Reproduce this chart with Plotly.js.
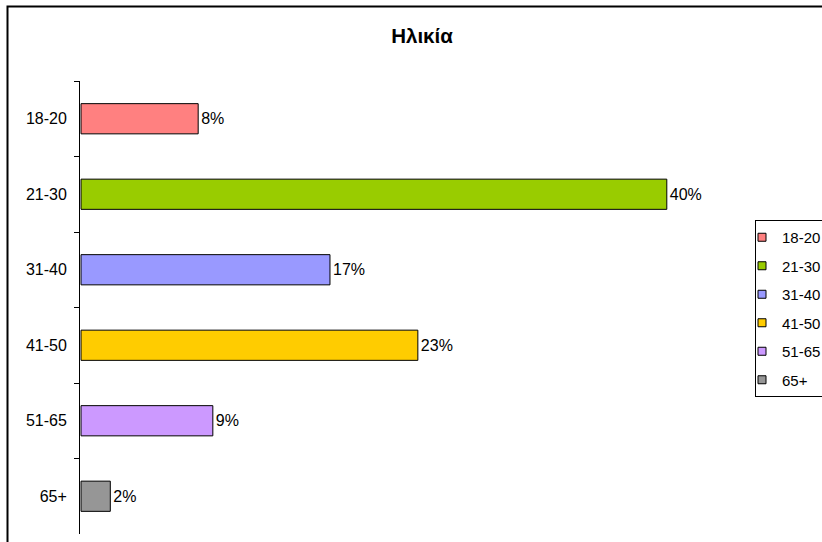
<!DOCTYPE html>
<html>
<head>
<meta charset="utf-8">
<script src="https://cdn.plot.ly/plotly-3.0.1.min.js"></script>
<style>html,body{margin:0;padding:0;background:#fff;}#chart{width:822px;height:542px;}</style>
</head>
<body>
<div id="chart"></div>
<script>
const categories = ['18-20', '21-30', '31-40', '41-50', '51-65', '65+'];
const percentages = [8, 40, 17, 23, 9, 2];
const colors = ['#FF8080', '#99CC00', '#9999FF', '#FFCC00', '#CC99FF', '#969696'];
const chartTitle = 'Ηλικία';

const FONT = '"Liberation Sans", Arial, sans-serif';
const traces = [];
categories.forEach((c, i) => {
  traces.push({
    type: 'bar', orientation: 'h',
    x: [percentages[i]], y: [c],
    name: c,
    marker: {color: colors[i], line: {color: '#000', width: 1}},
    text: [percentages[i] + '%'], textposition: 'outside',
    textfont: {family: FONT, size: 16, color: '#000'},
    cliponaxis: false,
    showlegend: false, hoverinfo: 'skip'
  });
});
categories.forEach((c, i) => {
  traces.push({
    type: 'scatter', mode: 'markers',
    x: [null], y: [null], name: c, legendgroup: 'g' + i,
    marker: {symbol: 'square', size: 8, color: colors[i], line: {color: '#000', width: 1}},
    showlegend: true, hoverinfo: 'skip'
  });
});

const layout = {
  width: 822, height: 542,
  margin: {l: 80, r: 83, t: 81, b: 8},
  paper_bgcolor: '#fff', plot_bgcolor: '#fff',
  font: {family: FONT, size: 16, color: '#000'},
  title: {text: chartTitle, font: {family: FONT, size: 20.5, weight: 'bold', color: '#000'},
          x: 422 / 822, xref: 'container', xanchor: 'center',
          y: 1 - 36 / 542, yref: 'container', yanchor: 'middle'},
  barmode: 'overlay', bargap: 0.6,
  xaxis: {range: [-0.07, 44.93], visible: false, fixedrange: true},
  yaxis: {type: 'category', categoryorder: 'array', categoryarray: categories,
          autorange: 'reversed', showline: true, linecolor: '#000', linewidth: 1,
          ticks: 'outside', tickson: 'boundaries', ticklen: 5, tickcolor: '#000', tickwidth: 1,
          showgrid: false, zeroline: false, tickfont: {family: FONT, size: 16, color: '#000'},
          ticklabelstandoff: 9, fixedrange: true},
  showlegend: true,
  legend: {xref: 'container', yref: 'container', x: 755 / 822, y: 1 - 220 / 542,
           xanchor: 'left', yanchor: 'top', bgcolor: '#fff', bordercolor: '#000', borderwidth: 1,
           font: {family: FONT, size: 15, color: '#000'}, tracegroupgap: 6, itemwidth: 30,
           indentation: -14, traceorder: 'grouped'},
  shapes: [{type: 'rect', xref: 'paper', yref: 'paper',
            x0: (7.5 - 80) / 659, x1: 1.5, y0: -0.2, y1: (534 - 6.5) / 453,
            line: {color: '#000', width: 2}, fillcolor: 'rgba(0,0,0,0)', layer: 'above'}]
};

Plotly.newPlot('chart', traces, layout, {displayModeBar: false, staticPlot: true});
</script>
</body>
</html>
